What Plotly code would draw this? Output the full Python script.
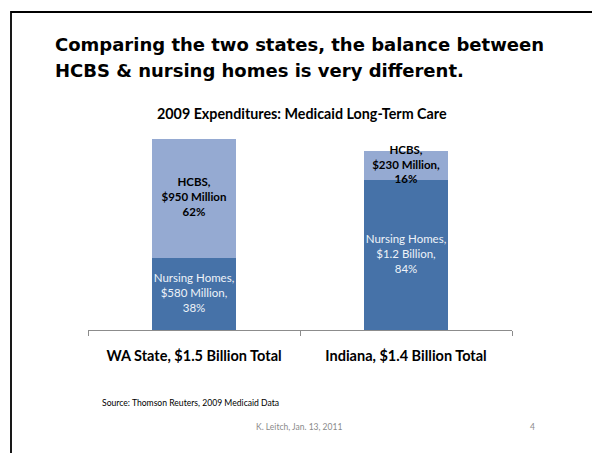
import plotly.graph_objects as go

categories = ["WA State, $1.5 Billion Total", "Indiana, $1.4 Billion Total"]
nursing_homes = [580, 1200]          # $ millions
hcbs = [950, 230]                    # $ millions
nh_labels = ["Nursing Homes,<br>$580 Million,<br>38%", "Nursing Homes,<br>$1.2 Billion,<br>84%"]
hcbs_labels = ["HCBS,<br>$950 Million<br>62%", "HCBS,<br>$230 Million,<br>16%"]

W, H = 592, 453
L, R, T, B = 88, 80, 130, 123
PW, PH = W - L - R, H - T - B

def px(x):
    return (x - L) / PW

def py(y):
    return (H - B - y) / PH

NH_COLOR = "#4672A8"
HCBS_COLOR = "#95AAD2"
BODY = "Lato, 'Open Sans', sans-serif"

fig = go.Figure()
fig.add_trace(go.Bar(x=categories, y=nursing_homes, marker=dict(color=NH_COLOR, line=dict(width=0)),
                     name="Nursing Homes", hoverinfo="skip"))
fig.add_trace(go.Bar(x=categories, y=hcbs, marker=dict(color=HCBS_COLOR, line=dict(width=0)),
                     name="HCBS", hoverinfo="skip"))

nh_mid = [n / 2 for n in nursing_homes]
hcbs_mid = [n + h / 2 for n, h in zip(nursing_homes, hcbs)]
fig.add_trace(go.Scatter(x=categories, y=nh_mid, mode="text", text=nh_labels,
                         textfont=dict(family=BODY, size=11.5, color="#EEF2F8"),
                         cliponaxis=False, hoverinfo="skip", showlegend=False))
fig.add_trace(go.Scatter(x=categories, y=hcbs_mid, mode="text", text=hcbs_labels,
                         textfont=dict(family=BODY, size=11.5, color="#000000", weight="bold"),
                         cliponaxis=False, hoverinfo="skip", showlegend=False))

fig.update_layout(
    width=W, height=H, margin=dict(l=L, r=R, t=T, b=B),
    barmode="stack", bargap=0.6, showlegend=False,
    paper_bgcolor="white", plot_bgcolor="white",
    xaxis=dict(showline=True, linecolor="#8C8C8C", linewidth=1, ticks="outside", tickson="boundaries",
               ticklen=5, tickcolor="#8C8C8C", showgrid=False, ticklabelstandoff=13,
               tickfont=dict(family=BODY, size=14.5, color="#000000", weight="bold")),
    yaxis=dict(range=[0, 1600], visible=False, showgrid=False, zeroline=False),
    shapes=[dict(type="rect", xref="paper", yref="paper", x0=px(11), x1=px(600), y0=py(12), y1=py(460),
                 line=dict(color="black", width=1.8), fillcolor="rgba(0,0,0,0)", layer="above")],
    annotations=[
        dict(text="<b>Comparing the two states, the balance between</b>", x=px(53), y=py(45), xref="paper", yref="paper",
             xanchor="left", yanchor="middle", showarrow=False, font=dict(family="DejaVu Sans", size=18, color="black")),
        dict(text="<b>HCBS &amp; nursing homes is very different.</b>", x=px(53), y=py(70), xref="paper", yref="paper",
             xanchor="left", yanchor="middle", showarrow=False, font=dict(family="DejaVu Sans", size=18, color="black")),
        dict(text="<b>2009 Expenditures: Medicaid Long-Term Care</b>", x=px(302), y=py(113), xref="paper", yref="paper",
             xanchor="center", yanchor="middle", showarrow=False, font=dict(family=BODY, size=14.3, color="black")),
        dict(text="Source: Thomson Reuters, 2009 Medicaid Data", x=px(100), y=py(403), xref="paper", yref="paper",
             xanchor="left", yanchor="middle", showarrow=False, font=dict(family=BODY, size=8.6, color="black")),
        dict(text="K. Leitch, Jan. 13, 2011", x=px(299), y=py(427), xref="paper", yref="paper",
             xanchor="center", yanchor="middle", showarrow=False, font=dict(family=BODY, size=8.5, color="#8A8A8A")),
        dict(text="4", x=px(532), y=py(427), xref="paper", yref="paper",
             xanchor="center", yanchor="middle", showarrow=False, font=dict(family=BODY, size=8.5, color="#8A8A8A")),
    ],
)

fig.write_html("out.html")
